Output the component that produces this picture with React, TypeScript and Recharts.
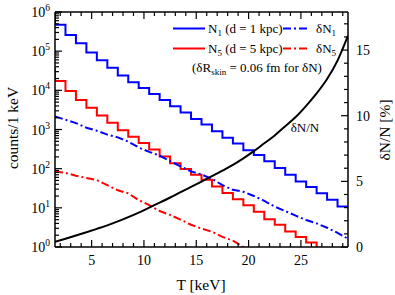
import { LineChart, Line, XAxis, YAxis, Legend } from 'recharts';

// histogram bins, 1 keV wide, centred on T
const T = [1, 2, 3, 4, 5, 6, 7, 8, 9, 10, 11, 12, 13, 14, 15, 16, 17, 18, 19, 20, 21, 22, 23, 24, 25, 26, 27, 28, 29];
const N1 = [1.3e6, 4.7e5, 2.6e5, 1.6e5, 9.3e4, 5.9e4, 3.8e4, 2.4e4, 1.6e4, 1.14e4, 8100, 5700, 3950, 2700, 1860, 1340, 900, 620, 440, 295, 222, 154, 104, 70, 47, 34, 23.5, 16, 10.8];
const N5 = [34500, 17300, 9600, 5640, 3600, 2290, 1490, 960, 650, 451, 307, 203, 138, 98, 70, 52, 35, 24, 16.5, 11.6, 8.0, 5.1, 3.7, 2.5, 1.8, 1.3, 0.6, 0.4, 0.3];

// curves sampled at bin edges
const TE = [1.5, 2.5, 3.5, 4.5, 5.5, 6.5, 7.5, 8.5, 9.5, 10.5, 11.5, 12.5, 13.5, 14.5, 15.5, 16.5, 17.5, 18.5, 19.5, 20.5, 21.5, 22.5, 23.5, 24.5, 25.5, 26.5, 27.5, 28.5, 29.5];
const DN1 = [2140, 1780, 1460, 1110, 933, 741, 631, 490, 347, 269, 214, 155, 115, 85, 71, 55, 38, 28.8, 25.7, 20, 15.1, 10.7, 8.3, 6.3, 4.9, 4.0, 3.1, 2.3, 1.62];
const DN5 = [85, 78, 66, 58, 51, 38, 28, 23.4, 15.8, 11.7, 8.3, 6.6, 5.0, 3.7, 2.95, 2.45, 1.82, 1.45, 1.0, 0.7];
const RATIO = [0.4, 0.63, 0.87, 1.12, 1.38, 1.65, 1.95, 2.27, 2.62, 3.0, 3.38, 3.77, 4.18, 4.58, 4.98, 5.4, 5.82, 6.25, 6.75, 7.3, 7.9, 8.5, 9.2, 9.9, 10.75, 11.7, 12.8, 14.2, 16.1];

const X_TICKS = [2, 3, 4, 5, 6, 7, 8, 9, 10, 11, 12, 13, 14, 15, 16, 17, 18, 19, 20, 21, 22, 23, 24, 25, 26, 27, 28, 29];
const R_TICKS = [0, 1, 2, 3, 4, 5, 6, 7, 8, 9, 10, 11, 12, 13, 14, 15, 16, 17];
const DECADES = [1, 10, 100, 1e3, 1e4, 1e5];
const Y_TICKS = [...DECADES.flatMap((d) => [1, 2, 3, 4, 5, 6, 7, 8, 9].map((m) => m * d)), 1e6];

const BLUE = '#0000ff';
const RED = '#ff0000';
const FONT = "'Liberation Serif', 'Times New Roman', serif";
const DASHDOT = '8 3 2 3';
const txt = { fontFamily: FONT };

const steps = (vals: number[]) => [
  ...T.map((t, i) => ({ T: t - 0.5, v: vals[i] })),
  { T: T[T.length - 1] + 0.5, v: vals[vals.length - 1] },
];
const curve = (vals: number[]) => vals.map((v, i) => ({ T: TE[i], v }));

const BottomTick = ({ x, y, payload }: any) => {
  const major = payload.value % 5 === 0;
  return (
    <g>
      <line x1={x} x2={x} y1={y} y2={y - (major ? 7 : 4)} stroke="#000" strokeWidth={1.2} />
      {major && (
        <text x={x} y={y + 18} textAnchor="middle" fontSize={14} style={txt} fill="#000">
          {payload.value}
        </text>
      )}
    </g>
  );
};

const TopTick = ({ x, y, payload }: any) => {
  const major = payload.value % 5 === 0;
  return <line x1={x} x2={x} y1={y} y2={y + (major ? 7 : 4)} stroke="#000" strokeWidth={1.2} />;
};

const LeftTick = ({ x, y, payload }: any) => {
  const lg = Math.log10(payload.value);
  const e = Math.round(lg);
  const major = Math.abs(lg - e) < 1e-9;
  return (
    <g>
      <line x1={x} x2={x + (major ? 7 : 4)} y1={y} y2={y} stroke="#000" strokeWidth={1.2} />
      {major && (
        <text x={x - 5} y={y + 5} textAnchor="end" fontSize={14} style={txt} fill="#000">
          10<tspan fontSize={9.5} dy={-6}>{e}</tspan>
        </text>
      )}
    </g>
  );
};

const RightTick = ({ x, y, payload }: any) => {
  const major = payload.value % 5 === 0;
  return (
    <g>
      <line x1={x} x2={x - (major ? 7 : 4)} y1={y} y2={y} stroke="#000" strokeWidth={1.2} />
      {major && (
        <text x={x + 8} y={y + 5} textAnchor="start" fontSize={14} style={txt} fill="#000">
          {payload.value}
        </text>
      )}
    </g>
  );
};

// legend, in-plot note and axis titles
const Overlay = () => (
  <svg width={395} height={295} style={{ display: 'block', ...txt }} fill="#000">
    <line x1={173} x2={205} y1={28.5} y2={28.5} stroke={BLUE} strokeWidth={2} />
    <text x={208} y={33} fontSize={13}>
      N<tspan fontSize={9} dy={3}>1</tspan><tspan dy={-3}> (d = 1 kpc)</tspan>
    </text>
    <line x1={283} x2={309} y1={28.5} y2={28.5} stroke={BLUE} strokeWidth={2} strokeDasharray={DASHDOT} />
    <text x={316} y={33} fontSize={13}>
      δN<tspan fontSize={9} dy={3}>1</tspan>
    </text>

    <line x1={173} x2={205} y1={48.5} y2={48.5} stroke={RED} strokeWidth={2} />
    <text x={208} y={53} fontSize={13}>
      N<tspan fontSize={9} dy={3}>5</tspan><tspan dy={-3}> (d = 5 kpc)</tspan>
    </text>
    <line x1={283} x2={309} y1={48.5} y2={48.5} stroke={RED} strokeWidth={2} strokeDasharray={DASHDOT} />
    <text x={316} y={53} fontSize={13}>
      δN<tspan fontSize={9} dy={3}>5</tspan>
    </text>

    <text x={192} y={72} fontSize={13}>
      (δR<tspan fontSize={9} dy={3}>skin</tspan><tspan dy={-3}> = 0.06 fm for δN)</tspan>
    </text>

    <text x={305} y={132} fontSize={13} textAnchor="middle">δN/N</text>

    <text x={201} y={290} fontSize={15.5} textAnchor="middle">T [keV]</text>
    <text x={17.5} y={128} fontSize={15.5} textAnchor="middle" transform="rotate(-90 17.5 128)">counts/1 keV</text>
    <text x={390} y={130} fontSize={15.5} textAnchor="middle" transform="rotate(-90 390 130)">δN/N [%]</text>
  </svg>
);

export default function App() {
  const axisLine = { stroke: '#000', strokeWidth: 1.5 };
  return (
    <div style={{ position: 'absolute', left: 0, top: 0, width: 395, height: 295, background: '#fff' }}>
      <LineChart width={395} height={295} margin={{ top: 10, right: 5, bottom: 18, left: 5 }}>
        <XAxis
          xAxisId="b"
          dataKey="T"
          type="number"
          domain={[1.5, 29.5]}
          allowDataOverflow
          ticks={X_TICKS}
          interval={0}
          tickSize={0}
          tickMargin={0}
          tick={BottomTick}
          axisLine={axisLine}
          height={30}
        />
        <XAxis
          xAxisId="t"
          orientation="top"
          dataKey="T"
          type="number"
          domain={[1.5, 29.5]}
          allowDataOverflow
          ticks={X_TICKS}
          interval={0}
          tickSize={0}
          tickMargin={0}
          tick={TopTick}
          axisLine={axisLine}
          height={2}
        />
        <YAxis
          yAxisId="l"
          type="number"
          scale="log"
          domain={[1, 1e6]}
          allowDataOverflow
          ticks={Y_TICKS}
          interval={0}
          tickSize={0}
          tickMargin={0}
          tick={LeftTick}
          axisLine={axisLine}
          width={50}
        />
        <YAxis
          yAxisId="r"
          orientation="right"
          type="number"
          domain={[0, 17.9]}
          allowDataOverflow
          ticks={R_TICKS}
          interval={0}
          tickSize={0}
          tickMargin={0}
          tick={RightTick}
          axisLine={axisLine}
          width={42}
        />
        <Line xAxisId="b" yAxisId="l" data={steps(N1)} dataKey="v" type="stepAfter" stroke={BLUE} strokeWidth={2} dot={false} isAnimationActive={false} />
        <Line xAxisId="b" yAxisId="l" data={steps(N5)} dataKey="v" type="stepAfter" stroke={RED} strokeWidth={2} dot={false} isAnimationActive={false} />
        <Line xAxisId="b" yAxisId="l" data={curve(DN1)} dataKey="v" type="linear" stroke={BLUE} strokeWidth={2} strokeDasharray={DASHDOT} dot={false} isAnimationActive={false} />
        <Line xAxisId="b" yAxisId="l" data={curve(DN5)} dataKey="v" type="linear" stroke={RED} strokeWidth={2} strokeDasharray={DASHDOT} dot={false} isAnimationActive={false} />
        <Line xAxisId="b" yAxisId="r" data={curve(RATIO)} dataKey="v" type="monotone" stroke="#000" strokeWidth={2} dot={false} isAnimationActive={false} />
        <Legend
          layout="vertical"
          align="center"
          verticalAlign="middle"
          content={() => <Overlay />}
          wrapperStyle={{ position: 'absolute', left: 0, top: 0, width: 395, height: 295, pointerEvents: 'none' }}
        />
      </LineChart>
    </div>
  );
}
